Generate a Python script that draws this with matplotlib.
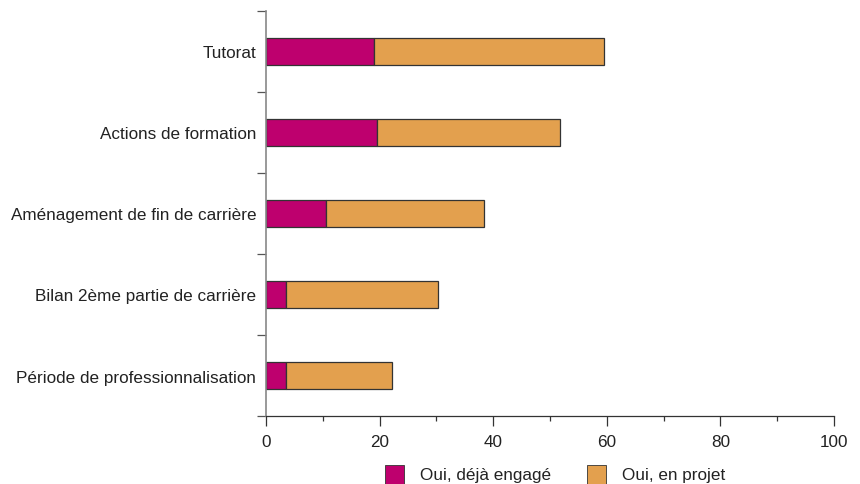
import matplotlib
matplotlib.use("Agg")
import matplotlib.pyplot as plt
from matplotlib.patches import Rectangle
import numpy as np

categories = ["Tutorat", "Actions de formation", "Aménagement de fin de carrière",
              "Bilan 2ème partie de carrière", "Période de professionnalisation"]
deja_engage = [19.0, 19.6, 10.5, 3.6, 3.5]
en_projet = [40.5, 32.2, 27.8, 26.6, 18.6]
series_names = ["Oui, déjà engagé", "Oui, en projet"]
x_ticks = [0, 20, 40, 60, 80, 100]

plt.rcParams['font.family'] = ['Liberation Sans', 'DejaVu Sans']
plt.rcParams['font.size'] = 12.3

c1 = "#BE006E"
c2 = "#E3A04E"
edge = "#333333"

W, H = 860, 485
fig = plt.figure(figsize=(8.6, 4.85), dpi=100)
ax = fig.add_axes([266/W, 1-417/H, (834-266)/W, (417-12)/H])

n = len(categories)
y = np.arange(n)[::-1]
h = 0.333
ax.barh(y, deja_engage, height=h, color=c1, edgecolor=edge, linewidth=0.9)
ax.barh(y, en_projet, left=deja_engage, height=h, color=c2, edgecolor=edge, linewidth=0.9)

ax.set_xlim(0, 100)
ax.set_ylim(-0.5, n - 0.5)
ax.set_xticks(x_ticks)
ax.set_xticks(np.arange(10, 100, 20), minor=True)
ax.tick_params(axis='x', which='major', length=7.2, width=0.9, color='#333333',
               labelsize=12.3, pad=6, labelcolor='#222222')
ax.tick_params(axis='x', which='minor', length=3.6, width=0.9, color='#333333')

ax.set_yticks(np.arange(-0.5, n, 1.0))
ax.set_yticklabels([])
ax.set_yticks(y, minor=True)
ax.set_yticklabels(categories, minor=True)
ax.tick_params(axis='y', which='major', length=6.5, width=0.9, color='#555555')
ax.tick_params(axis='y', which='minor', length=0, labelsize=12.3, pad=7,
               labelcolor='#222222')

for s in ['top', 'right']:
    ax.spines[s].set_visible(False)
ax.spines['left'].set_color('#888888')
ax.spines['left'].set_linewidth(1.2)
ax.spines['bottom'].set_color('#333333')
ax.spines['bottom'].set_linewidth(0.9)

# legend (manual placement, below axes)
leg_items = [(385, 420, c1, series_names[0]), (587, 622, c2, series_names[1])]
for x0, xt, col, lab in leg_items:
    fig.patches.append(Rectangle((x0/W, 1-485/H), 19/W, 19/H, transform=fig.transFigure,
                                 facecolor=col, edgecolor=edge, linewidth=0.6))
    fig.text(xt/W, 1-480/H, lab, ha='left', va='baseline', fontsize=12.3, color='#222222')

fig.savefig("out.png", dpi=100)
